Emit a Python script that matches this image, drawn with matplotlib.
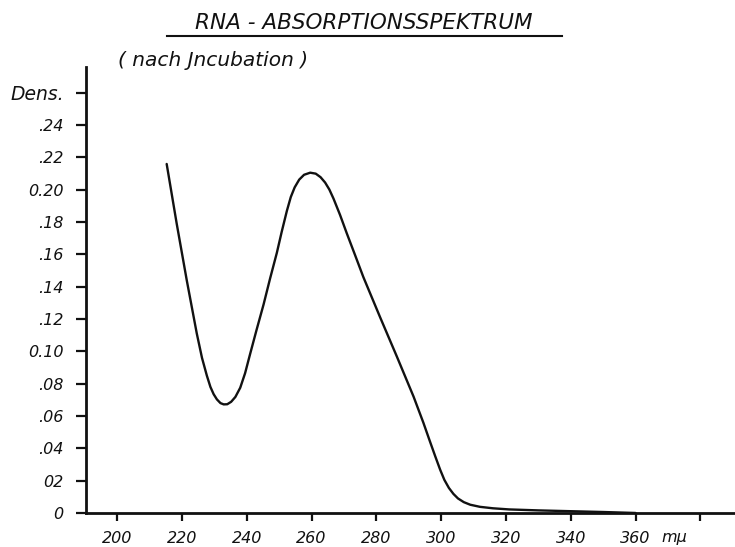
import matplotlib.pyplot as plt
from matplotlib.lines import Line2D

# values
wavelength = [215.3, 218.4, 221.5, 224.6, 226.2, 227.7, 228.8, 229.8, 230.8, 231.9, 232.9,
              234.0, 235.2, 236.5, 238.0, 239.5, 241.0, 243.0, 245.2, 247.2, 249.3, 250.8,
              252.4, 253.6, 254.8, 256.2, 257.7, 259.6, 261.3, 262.8, 264.2, 265.5, 266.8,
              268.8, 270.9, 273.5, 276.0, 281.2, 286.3, 291.5, 294.5, 296.6, 298.2, 299.7,
              301.0, 302.4, 303.8, 305.2, 307.0, 309.0, 312.0, 316.0, 321.0, 330.0, 340.0,
              350.0, 360.0]
density = [0.216, 0.179, 0.144, 0.111, 0.096, 0.085, 0.078, 0.0735, 0.0703, 0.068, 0.0672,
           0.0673, 0.0688, 0.0718, 0.0775, 0.0865, 0.098, 0.113, 0.129, 0.145, 0.161, 0.174,
           0.187, 0.1955, 0.2015, 0.2063, 0.2093, 0.2106, 0.2100, 0.2078, 0.2045, 0.2002,
           0.1945, 0.1845, 0.173, 0.1593, 0.146, 0.121, 0.097, 0.072, 0.056, 0.044, 0.035,
           0.0268, 0.0205, 0.0155, 0.0118, 0.0090, 0.0067, 0.0051, 0.0038, 0.0029, 0.0022,
           0.0016, 0.0011, 0.0006, 0.0]

xticks = [200, 220, 240, 260, 280, 300, 320, 340, 360, 380]
xlabels = ['200', '220', '240', '260', '280', '300', '320', '340', '360', '']
yticks = [0, 0.02, 0.04, 0.06, 0.08, 0.10, 0.12, 0.14, 0.16, 0.18, 0.20, 0.22, 0.24, 0.26]
ylabels = ['0', '02', '.04', '.06', '.08', '0.10', '.12', '.14', '.16', '.18', '0.20',
           '.22', '.24', 'Dens.']

ink = '#111111'
plt.rcParams['font.family'] = ['DejaVu Sans']
plt.rcParams['font.style'] = 'oblique'

fig = plt.figure(figsize=(7.35, 5.47), dpi=100)
ax = fig.add_axes([0.117, 0.0622, 0.883, 0.8153])

ax.plot(wavelength, density, color=ink, lw=1.7, solid_capstyle='round',
        solid_joinstyle='round')

ax.set_xlim(190.4, 390.7)
ax.set_ylim(0, 0.276)

for side in ['top', 'right']:
    ax.spines[side].set_visible(False)
for side in ['left', 'bottom']:
    ax.spines[side].set_linewidth(2.0)
    ax.spines[side].set_color(ink)

ax.set_xticks(xticks)
ax.set_xticklabels(xlabels, fontsize=11.5, style='oblique', color=ink)
ax.set_yticks(yticks)
ax.set_yticklabels(ylabels, fontsize=11.5, style='oblique', color=ink)
ax.get_yticklabels()[-1].set_fontsize(13.5)
ax.tick_params(axis='x', direction='out', length=6, width=1.6, pad=7, colors=ink)
ax.tick_params(axis='y', direction='out', length=7, width=1.6, pad=9, colors=ink)

# unit next to the last labelled tick
ax.text(372, -0.066, 'mμ', fontsize=11.5, style='oblique', color=ink,
        ha='center', va='baseline', transform=ax.get_xaxis_transform())

# title with underline and subtitle
fig.text(0.495, 0.958, 'RNA - ABSORPTIONSSPEKTRUM', fontsize=15.5, style='oblique',
         color=ink, ha='center', va='center')
fig.add_artist(Line2D([0.227, 0.765], [0.934, 0.934], color=ink, lw=1.5))
fig.text(0.160, 0.890, '( nach Jncubation )', fontsize=14.5, style='oblique',
         color=ink, ha='left', va='center')

fig.savefig('out.png', dpi=100)
